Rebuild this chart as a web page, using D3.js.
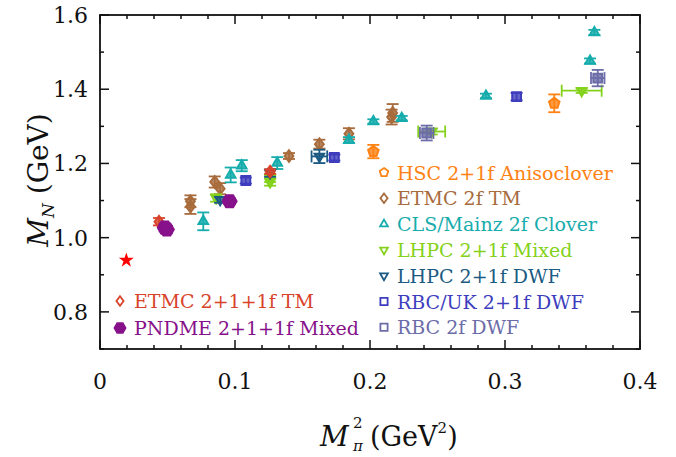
<!DOCTYPE html>
<html>
<head>
<meta charset="utf-8">
<script src="https://cdn.jsdelivr.net/npm/d3@7/dist/d3.min.js"></script>
<style>
  body { margin: 0; background: #fff; }
  svg { display: block; }
  text { font-family: "DejaVu Serif", "Liberation Serif", serif; }
</style>
</head>
<body>
<svg id="chart" width="676" height="457"></svg>
<script>
// Nucleon mass vs pion mass squared. Each point: [Mpi^2 (GeV^2), M_N (GeV), dy, dx]
const hsc = [[0.2025, 1.232, 0.018], [0.3365, 1.362, 0.024]];
const etmc2f = [[0.067, 1.084, 0.02], [0.067, 1.098, 0.016], [0.085, 1.150, 0.015], [0.089, 1.132, 0.015],
  [0.140, 1.220, 0.008], [0.1625, 1.252, 0.012], [0.1844, 1.280, 0.015], [0.216, 1.325, 0.02], [0.2168, 1.336, 0.024]];
const cls = [[0.0765, 1.044, 0.024], [0.0968, 1.169, 0.02], [0.105, 1.194, 0.015], [0.1313, 1.201, 0.016],
  [0.1844, 1.263, 0.008], [0.2025, 1.313, 0.006], [0.2235, 1.322, 0.006], [0.2859, 1.382, 0.006],
  [0.363, 1.476, 0.007], [0.3662, 1.553, 0.007]];
const lhpcMixed = [[0.086, 1.107, 0.01], [0.126, 1.150, 0.01], [0.126, 1.160, 0.01],
  [0.2457, 1.286, 0.008, 0.01], [0.3568, 1.396, 0.006, 0.0148]];
const lhpcDwf = [[0.089, 1.102, 0.008], [0.126, 1.174, 0.01], [0.1625, 1.219, 0.018, 0.0058]];
const rbcUk = [[0.108, 1.154, 0.008], [0.1736, 1.216, 0.008], [0.3086, 1.380, 0.01]];
const rbc2f = [[0.242, 1.282, 0.02, 0.005], [0.3687, 1.430, 0.022, 0.005]];
const etmc211 = [[0.0437, 1.043, 0.01], [0.126, 1.178, 0.006]];
const pndme = [[0.048, 1.027, 0.01], [0.0495, 1.022, 0.01], [0.096, 1.098, 0.008]];
const physical = [[0.0195, 0.939]];

const xTicks = [0, 0.1, 0.2, 0.3, 0.4];
const xTickLabels = ["0", "0.1", "0.2", "0.3", "0.4"];
const yTicks = [0.8, 1.0, 1.2, 1.4, 1.6];
const yTickLabels = ["0.8", "1.0", "1.2", "1.4", "1.6"];

const series = [
  { name: "HSC 2+1f Anisoclover", data: hsc, color: "#ff8214", shape: "pentagon" },
  { name: "ETMC 2f TM", data: etmc2f, color: "#a86b3c", shape: "diamond" },
  { name: "CLS/Mainz 2f Clover", data: cls, color: "#17acac", shape: "triUp" },
  { name: "LHPC 2+1f Mixed", data: lhpcMixed, color: "#84d21c", shape: "triDown" },
  { name: "LHPC 2+1f DWF", data: lhpcDwf, color: "#1b5a82", shape: "triDown" },
  { name: "RBC/UK 2+1f DWF", data: rbcUk, color: "#3d3dbd", shape: "square" },
  { name: "RBC 2f DWF", data: rbc2f, color: "#6c6ca8", shape: "square" },
  { name: "ETMC 2+1+1f TM", data: etmc211, color: "#d8432a", shape: "diamond" },
  { name: "PNDME 2+1+1f Mixed", data: pndme, color: "#86118a", shape: "hexagon" },
];

const plot = { left: 100, right: 640, top: 15, bottom: 349 };

const x = d3.scaleLinear().domain([0, 0.4]).range([plot.left, plot.right]);
const y = d3.scaleLinear().domain([0.7, 1.6]).range([plot.bottom, plot.top]);

const svg = d3.select("#chart");

// Polygon path helper for marker shapes, r = radius in px.
function shapePath(shape, r) {
  const poly = (n, rot) => d3.range(n).map(i => {
    const a = rot + i * 2 * Math.PI / n;
    return [r * Math.cos(a), r * Math.sin(a)];
  });
  let pts;
  switch (shape) {
    case "pentagon": pts = poly(5, -Math.PI / 2); break;
    case "diamond": pts = [[0, -r * 1.05], [r * 0.8, 0], [0, r * 1.05], [-r * 0.8, 0]]; break;
    case "triUp": pts = poly(3, -Math.PI / 2); break;
    case "triDown": pts = poly(3, Math.PI / 2); break;
    case "square": pts = [[-r * 0.8, -r * 0.8], [r * 0.8, -r * 0.8], [r * 0.8, r * 0.8], [-r * 0.8, r * 0.8]]; break;
    case "hexagon": pts = poly(6, 0); break;
  }
  return "M" + pts.map(p => p.join(",")).join("L") + "Z";
}

// Frame + ticks (inward, all four sides).
const axes = svg.append("g").attr("stroke", "#111").attr("fill", "none");
axes.append("rect")
  .attr("x", plot.left).attr("y", plot.top)
  .attr("width", plot.right - plot.left).attr("height", plot.bottom - plot.top)
  .attr("stroke-width", 1.8);

const xMinor = d3.range(0.02, 0.4, 0.02).filter(v => Math.abs(v * 10 - Math.round(v * 10)) > 1e-6);
const yMinor = d3.range(0.7, 1.6, 0.1).filter(v => Math.abs(v * 5 - Math.round(v * 5)) > 1e-6);

function tickLines(values, len, orient) {
  values.forEach(v => {
    if (orient === "x") {
      axes.append("line").attr("x1", x(v)).attr("x2", x(v)).attr("y1", plot.bottom).attr("y2", plot.bottom - len).attr("stroke-width", 1.5);
      axes.append("line").attr("x1", x(v)).attr("x2", x(v)).attr("y1", plot.top).attr("y2", plot.top + len).attr("stroke-width", 1.5);
    } else {
      axes.append("line").attr("y1", y(v)).attr("y2", y(v)).attr("x1", plot.left).attr("x2", plot.left + len).attr("stroke-width", 1.5);
      axes.append("line").attr("y1", y(v)).attr("y2", y(v)).attr("x1", plot.right).attr("x2", plot.right - len).attr("stroke-width", 1.5);
    }
  });
}
tickLines(xTicks, 9, "x");
tickLines(xMinor, 4, "x");
tickLines(yTicks, 9, "y");
tickLines(yMinor, 4, "y");

// Tick labels.
svg.append("g").selectAll("text").data(xTicks).join("text")
  .attr("x", d => x(d)).attr("y", 389)
  .attr("text-anchor", "middle").attr("font-size", 22).attr("fill", "#111")
  .text((d, i) => xTickLabels[i]);
svg.append("g").selectAll("text").data(yTicks).join("text")
  .attr("x", 88).attr("y", d => y(d) + 8)
  .attr("text-anchor", "end").attr("font-size", 22).attr("fill", "#111")
  .text((d, i) => yTickLabels[i]);

// Axis titles. x title built from separate pieces so the stacked
// super/subscript don't collide.
const xtG = svg.append("g").attr("fill", "#111");
xtG.append("text").attr("x", 320).attr("y", 446).attr("font-size", 28).attr("font-style", "italic").text("M");
xtG.append("text").attr("x", 353).attr("y", 428).attr("font-size", 15).text("2");
xtG.append("text").attr("x", 353).attr("y", 451).attr("font-size", 15).attr("font-style", "italic").text("π");
const xt2 = xtG.append("text").attr("x", 370).attr("y", 446).attr("font-size", 27);
xt2.append("tspan").text("(GeV");
xt2.append("tspan").attr("font-size", 15).attr("dy", -13).text("2");
xt2.append("tspan").attr("dy", 13).text(")");

const yt = svg.append("text").attr("transform", "translate(48,180) rotate(-90)")
  .attr("text-anchor", "middle").attr("font-size", 28).attr("fill", "#111");
yt.append("tspan").attr("font-style", "italic").text("M");
yt.append("tspan").attr("font-size", 17).attr("font-style", "italic").attr("dy", 6).text("N");
yt.append("tspan").attr("dy", -6).text(" (GeV)");

// Data: error bars then markers.
const marks = svg.append("g");
series.forEach(s => {
  const g = marks.append("g");
  s.data.forEach(d => {
    const [mx, my, dy = 0, dx = 0] = d;
    const cx = x(mx), cy = y(my);
    const eb = g.append("g").attr("stroke", s.color).attr("stroke-width", 1.8).attr("fill", "none");
    if (dy > 0) {
      eb.append("line").attr("x1", cx).attr("x2", cx).attr("y1", y(my - dy)).attr("y2", y(my + dy));
      eb.append("line").attr("x1", cx - 6).attr("x2", cx + 6).attr("y1", y(my - dy)).attr("y2", y(my - dy));
      eb.append("line").attr("x1", cx - 6).attr("x2", cx + 6).attr("y1", y(my + dy)).attr("y2", y(my + dy));
    }
    if (dx > 0) {
      eb.append("line").attr("y1", cy).attr("y2", cy).attr("x1", x(mx - dx)).attr("x2", x(mx + dx));
      eb.append("line").attr("y1", cy - 6).attr("y2", cy + 6).attr("x1", x(mx - dx)).attr("x2", x(mx - dx));
      eb.append("line").attr("y1", cy - 6).attr("y2", cy + 6).attr("x1", x(mx + dx)).attr("x2", x(mx + dx));
    }
    const filled = s.shape === "hexagon";
    g.append("path")
      .attr("transform", `translate(${cx},${cy})`)
      .attr("d", shapePath(s.shape, filled ? 7 : 5.5))
      .attr("fill", s.color)
      .attr("fill-opacity", filled ? 1 : 0.8)
      .attr("stroke", s.color).attr("stroke-width", 2);
  });
});

// Physical point star.
marks.selectAll(".phys").data(physical).join("path")
  .attr("transform", d => `translate(${x(d[0])},${y(d[1])})`)
  .attr("d", d3.symbol(d3.symbolStar, 70)())
  .attr("fill", "#ff0000");

// Legends.
const legRight = series.slice(0, 7);
const legLeft = series.slice(7);
function legend(items, mx, tx, y0, step) {
  const g = svg.append("g");
  items.forEach((s, i) => {
    const yy = y0 + i * step;
    const filled = s.shape === "hexagon";
    g.append("path").attr("transform", `translate(${mx},${yy})`)
      .attr("d", shapePath(s.shape, filled ? 5.5 : 4.5))
      .attr("fill", filled ? s.color : "none")
      .attr("stroke", s.color).attr("stroke-width", 1.8);
    g.append("text").attr("x", tx).attr("y", yy + 7)
      .attr("font-size", 19).attr("fill", s.color).text(s.name);
  });
}
legend(legRight, 384, 397, 172.5, 25.8);
legend(legLeft, 120, 134, 301, 27);
</script>
</body>
</html>
